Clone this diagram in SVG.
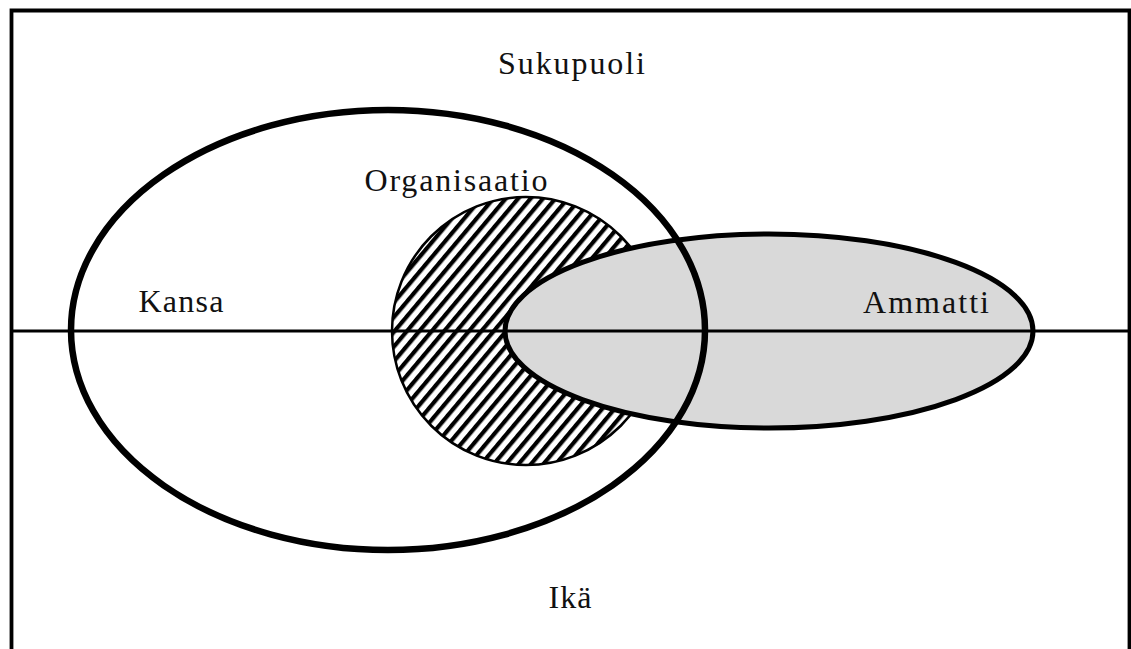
<svg xmlns="http://www.w3.org/2000/svg" width="1131" height="649" viewBox="0 0 1131 649">
  <style>
    .lbl { font-family: "Liberation Serif", "DejaVu Serif", serif; font-size: 32px; fill: #111; }
  </style>
  <defs>
    <pattern id="hatch" patternUnits="userSpaceOnUse" width="9.5" height="9.5" patternTransform="rotate(-50)">
      <rect x="0" y="0" width="9.5" height="9.5" fill="#fff"/>
      <rect x="0" y="0" width="9.5" height="4.2" fill="#000"/>
    </pattern>
  </defs>
  <rect width="1131" height="649" fill="#fff"/>

  <g id="frame">
    <path d="M11.5 649 V10.5 H1129.5 V649" fill="none" stroke="#000" stroke-width="3.8"/>
  </g>

  <g id="organisaatio">
    <circle cx="526" cy="331" r="134" fill="url(#hatch)" stroke="#000" stroke-width="2.5"/>
    <text class="lbl" x="456" y="191" text-anchor="middle" textLength="183">Organisaatio</text>
  </g>

  <g id="ammatti">
    <ellipse cx="769" cy="331" rx="264" ry="97" fill="#d9d9d9" stroke="#000" stroke-width="5"/>
    <text class="lbl" x="926" y="313" text-anchor="middle" textLength="126">Ammatti</text>
  </g>

  <g id="kansa">
    <ellipse cx="388" cy="330" rx="317" ry="220" fill="none" stroke="#000" stroke-width="6.5"/>
    <text class="lbl" x="181" y="312" text-anchor="middle" textLength="85">Kansa</text>
  </g>

  <g id="connectors">
    <line x1="11.5" y1="331" x2="1129.5" y2="331" stroke="#000" stroke-width="3.2"/>
  </g>

  <g id="sukupuoli">
    <text class="lbl" x="571.5" y="74" text-anchor="middle" textLength="147">Sukupuoli</text>
  </g>

  <g id="ika">
    <text class="lbl" x="570" y="608" text-anchor="middle" textLength="43">Ikä</text>
  </g>
</svg>
